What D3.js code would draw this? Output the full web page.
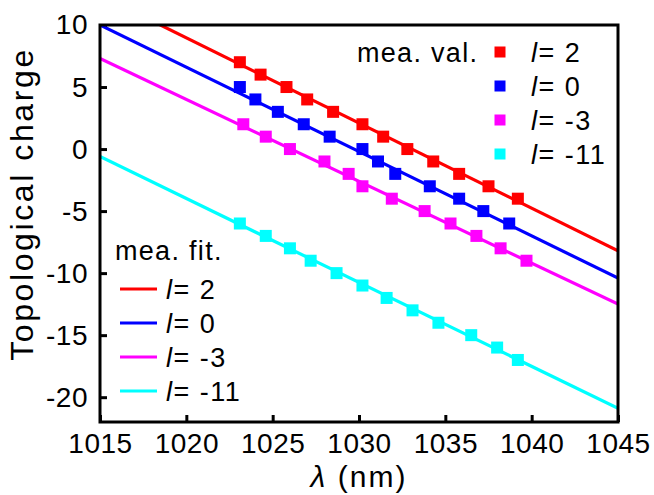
<!DOCTYPE html>
<html>
<head>
<meta charset="utf-8">
<script src="https://cdn.jsdelivr.net/npm/d3@7"></script>
<style>
  body { margin: 0; background: #fff; }
  text { font-family: "Liberation Sans", Arial, Helvetica, sans-serif; fill: #000; }
</style>
</head>
<body>
<svg width="654" height="495"></svg>
<script>
// series names and colours
var seriesNames = ['2', '0', '-3', '-11'];
var seriesColors = ['#ff0000', '#0000ff', '#ff00ff', '#00ffff'];

var lambdaL2  = [1023.1, 1024.3, 1025.8, 1027.0, 1028.5, 1030.2, 1031.4, 1032.8, 1034.3, 1035.8, 1037.5, 1039.2];
var chargeL2  = [7, 6, 5, 4, 3, 2, 1, 0, -1, -2, -3, -4];
var lambdaL0  = [1023.1, 1024.0, 1025.3, 1026.8, 1028.3, 1030.2, 1031.1, 1032.1, 1034.1, 1035.8, 1037.2, 1038.7];
var chargeL0  = [5, 4, 3, 2, 1, 0, -1, -2, -3, -4, -5, -6];
var lambdaLm3 = [1023.3, 1024.6, 1026.0, 1028.0, 1029.4, 1030.2, 1031.9, 1033.8, 1035.3, 1036.8, 1038.2, 1039.7];
var chargeLm3 = [2, 1, 0, -1, -2, -3, -4, -5, -6, -7, -8, -9];
var lambdaLm11 = [1023.1, 1024.6, 1026.0, 1027.2, 1028.7, 1030.2, 1031.6, 1033.1, 1034.6, 1036.5, 1038.0, 1039.2];
var chargeLm11 = [-6, -7, -8, -9, -10, -11, -12, -13, -14, -15, -16, -17];

// fitted lines: value at the left and right ends of the axis
var fitLambda = [1015, 1045];
var fitL2   = [12.4, -8.2];
var fitL0   = [10.0, -10.4];
var fitLm3  = [7.3, -12.5];
var fitLm11 = [-0.6, -20.9];

// ticks
var xTicks = [1015, 1020, 1025, 1030, 1035, 1040, 1045];
var yTicks = [10, 5, 0, -5, -10, -15, -20];

var measured = [[lambdaL2, chargeL2], [lambdaL0, chargeL0], [lambdaLm3, chargeLm3], [lambdaLm11, chargeLm11]];
var fits = [fitL2, fitL0, fitLm3, fitLm11];

var svg = d3.select('svg');
var padding = {t: 25, r: 36, b: 73, l: 100};
var chartWidth = 654 - padding.l - padding.r;
var chartHeight = 495 - padding.t - padding.b;

var chartG = svg.append('g')
  .attr('transform', 'translate(' + [padding.l, padding.t] + ')');

var xScale = d3.scaleLinear().domain([1015, 1045]).range([0, chartWidth]);
var yScale = d3.scaleLinear().domain([-22, 10]).range([chartHeight, 0]);

chartG.append('clipPath').attr('id', 'plot-clip')
  .append('rect').attr('width', chartWidth).attr('height', chartHeight);

// plain hyphen for negatives, like the original
var fmt = function(d) { return String(d); };

// axes, ticks pointing inward
var xAxis = chartG.append('g')
  .attr('transform', 'translate(0,' + chartHeight + ')')
  .call(d3.axisBottom(xScale).tickValues(xTicks).tickFormat(fmt)
    .tickSizeInner(-7).tickSizeOuter(0).tickPadding(11));
var yAxis = chartG.append('g')
  .call(d3.axisLeft(yScale).tickValues(yTicks).tickFormat(fmt)
    .tickSizeInner(-7).tickSizeOuter(0).tickPadding(12));

[xAxis, yAxis].forEach(function(ax) {
  ax.select('.domain').remove();
  ax.selectAll('line').attr('stroke', '#000').attr('stroke-width', 3);
  ax.selectAll('text')
    .style('font-size', '28px')
    .style('letter-spacing', '0.5px')
    .style('font-family', '"Liberation Sans", Arial, sans-serif');
});

// fit lines
var line = d3.line()
  .x(function(d) { return xScale(d[0]); })
  .y(function(d) { return yScale(d[1]); });

var linesG = chartG.append('g').attr('clip-path', 'url(#plot-clip)');
fits.forEach(function(f, i) {
  linesG.append('path')
    .datum(fitLambda.map(function(l, j) { return [l, f[j]]; }))
    .attr('d', line)
    .attr('fill', 'none')
    .attr('stroke', seriesColors[i])
    .attr('stroke-width', 3.2);
});

// measured squares
var sq = 12;
measured.forEach(function(m, i) {
  var pts = m[0].map(function(l, j) { return [l, m[1][j]]; });
  chartG.append('g').selectAll('rect')
    .data(pts)
    .enter()
    .append('rect')
      .attr('x', function(d) { return xScale(d[0]) - sq / 2; })
      .attr('y', function(d) { return yScale(d[1]) - sq / 2; })
      .attr('width', sq)
      .attr('height', sq)
      .attr('fill', seriesColors[i]);
});

// frame
chartG.append('rect')
  .attr('width', chartWidth)
  .attr('height', chartHeight)
  .attr('fill', 'none')
  .attr('stroke', '#000')
  .attr('stroke-width', 3);

// legend label helper: italic l then "= value"
function legendLabel(g, x, y, name) {
  var t = g.append('text')
    .attr('x', x).attr('y', y)
    .style('font-size', '27px')
    .style('letter-spacing', '1.5px');
  t.append('tspan').style('font-style', 'italic').text('l');
  t.append('tspan').text('= ' + name);
}

// measured-value legend (top right)
var valG = svg.append('g');
valG.append('text')
  .attr('x', 357).attr('y', 62)
  .style('font-size', '27px')
  .style('letter-spacing', '1.3px')
  .text('mea. val.');
seriesNames.forEach(function(name, i) {
  var cy = 52 + i * 34;
  valG.append('rect')
    .attr('x', 500 - 5.5).attr('y', cy - 5.5)
    .attr('width', 11).attr('height', 11)
    .attr('fill', seriesColors[i]);
  legendLabel(valG, 531, cy + 10, name);
});

// fit legend (bottom left)
var fitG = svg.append('g');
fitG.append('text')
  .attr('x', 115).attr('y', 260)
  .style('font-size', '27px')
  .style('letter-spacing', '1.3px')
  .text('mea. fit.');
seriesNames.forEach(function(name, i) {
  var cy = 289 + i * 34;
  fitG.append('line')
    .attr('x1', 120).attr('x2', 157)
    .attr('y1', cy).attr('y2', cy)
    .attr('stroke', seriesColors[i])
    .attr('stroke-width', 3.2);
  legendLabel(fitG, 166, cy + 10, name);
});

// axis titles
var xTitle = svg.append('text')
  .attr('x', 359).attr('y', 487)
  .attr('text-anchor', 'middle')
  .style('font-size', '30px')
  .style('letter-spacing', '2px');
xTitle.append('tspan').style('font-style', 'italic').text('λ');
xTitle.append('tspan').text(' (nm)');

svg.append('text')
  .attr('transform', 'translate(33,204) rotate(-90)')
  .attr('text-anchor', 'middle')
  .style('font-size', '32px')
  .style('letter-spacing', '2.6px')
  .text('Topological charge');
</script>
</body>
</html>
